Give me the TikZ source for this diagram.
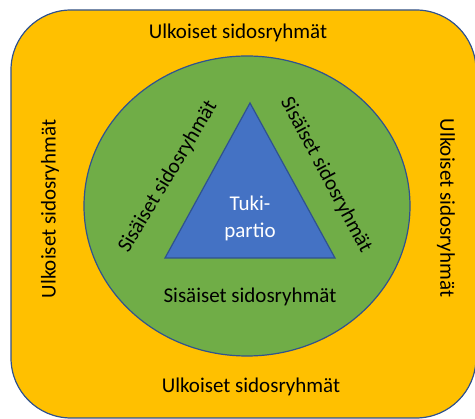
\documentclass[tikz,border=0pt]{standalone}
\usepackage{fontspec}
\setmainfont{Carlito}
\usepackage{tikz}
\usepackage{xcolor}

\definecolor{ulko}{HTML}{FFC000}
\definecolor{sisa}{HTML}{70AD47}
\definecolor{tuki}{HTML}{4472C4}
\definecolor{reuna}{HTML}{2F528F}

\begin{document}
\begin{tikzpicture}[x=1pt,y=-1pt,
	lbl/.style={inner sep=0pt, font=\fontsize{21}{25}\selectfont},
	shp/.style={draw=reuna, line width=1.2pt}]
	\tikzstyle{every node}+=[inner sep=0pt]
	\useasboundingbox (0,0) rectangle (475,419);
	% ulkoiset
	\draw [shp, fill=ulko, rounded corners=60pt] (11,10) rectangle (476,418);
	% sisaiset
	\draw [shp, fill=sisa] (247,206) ellipse (163 and 150);
	% tukipartio
	\draw [shp, fill=tuki] (250,103) -- (335,258) -- (165,258) -- cycle;
	\node [lbl] (ulkoT) at (238,33) {Ulkoiset sidosryhmät};
	\node [lbl] (ulkoB) at (251,387) {Ulkoiset sidosryhmät};
	\node [lbl, rotate=90] (ulkoL) at (50,209) {Ulkoiset sidosryhmät};
	\node [lbl, rotate=-90] (ulkoR) at (446,208) {Ulkoiset sidosryhmät};
	\node [lbl] (sisaB) at (250,297) {Sisäiset sidosryhmät};
	\node [lbl, rotate=59] (sisaL) at (168,177) {Sisäiset sidosryhmät};
	\node [lbl, rotate=-62] (sisaR) at (326,175) {Sisäiset sidosryhmät};
	\node [lbl, text=white, align=center, font=\fontsize{21}{27}\selectfont] (tp) at (250,218) {Tuki-\\partio};
\end{tikzpicture}
\end{document}
